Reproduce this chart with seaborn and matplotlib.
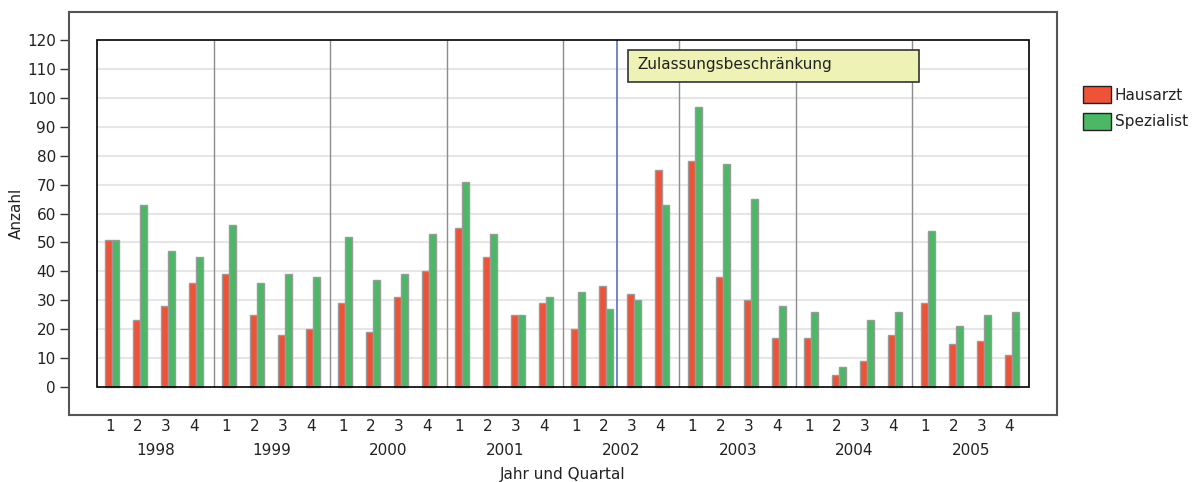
import matplotlib
matplotlib.use("Agg")
import matplotlib.pyplot as plt
from matplotlib.patches import Patch, Rectangle
import numpy as np
import pandas as pd
import seaborn as sns

# Data
years = ["1998", "1999", "2000", "2001", "2002", "2003", "2004", "2005"]
quarters = ["1", "2", "3", "4"]
hausarzt = [51, 23, 28, 36, 39, 25, 18, 20, 29, 19, 31, 40, 55, 45, 25, 29,
            20, 35, 32, 75, 78, 38, 30, 17, 17, 4, 9, 18, 29, 15, 16, 11]
spezialist = [51, 63, 47, 45, 56, 36, 39, 38, 52, 37, 39, 53, 71, 53, 25, 31,
              33, 27, 30, 63, 97, 77, 65, 28, 26, 7, 23, 26, 54, 21, 25, 26]
y_ticks = list(range(0, 121, 10))
series = ["Hausarzt", "Spezialist"]
note = "Zulassungsbeschränkung"

RED = "#ee5237"
GREEN = "#4cb866"
YEAR_STEP = 4.16  # quarter slots per year, incl. small gap between years

sns.set_theme(style="white")
plt.rcParams["font.family"] = ["DejaVu Sans"]
plt.rcParams["text.color"] = "#222222"

# x position of each quarter (year gap included)
pos = [yi * YEAR_STEP + qi for yi in range(len(years)) for qi in range(len(quarters))]
df = pd.DataFrame({
    "pos": pos * 2,
    "Anzahl": hausarzt + spezialist,
    "Gruppe": [series[0]] * len(hausarzt) + [series[1]] * len(spezialist),
})

fig = plt.figure(figsize=(12.03, 4.82), dpi=100)
ax = fig.add_axes([69 / 1203, 1 - 415 / 482, (1057 - 69) / 1203, (415 - 12) / 482])

sns.barplot(data=df, x="pos", y="Anzahl", hue="Gruppe", native_scale=True,
            width=0.5, gap=0, palette=[RED, GREEN], saturation=1,
            edgecolor="#9a9a9a", linewidth=1, errorbar=None, legend=False,
            ax=ax, zorder=3)

inner_left = -0.536
inner_right = inner_left + len(years) * YEAR_STEP
ax.set_xlim(inner_left - 1.0, inner_right + 1.0)
ax.set_ylim(-9.68, 129.68)

# grid, year separators, inner frame
ax.hlines(y_ticks[1:-1], inner_left, inner_right, color="#e6e6e6", lw=1.5, zorder=1)
ax.vlines([inner_left + k * YEAR_STEP for k in range(1, len(years))], 0, 120,
          color="#8c8c8c", lw=1, zorder=2)
ax.add_patch(Rectangle((inner_left, 0), inner_right - inner_left, 120, fill=False,
                       ec="black", lw=1.2, zorder=4))

# Zulassungsbeschränkung marker between 2002 Q2 and Q3
blue_x = 4 * YEAR_STEP + 1.4
ax.vlines(blue_x, 0, 120, color="#5b6fc0", lw=1.2, zorder=2)
ax.add_patch(Rectangle((blue_x + 0.39, 105.5), 10.39, 11.05, fc="#eef2b4",
                       ec="#333333", lw=1.2, zorder=5))
ax.text(blue_x + 0.71, 110.0, note, fontsize=11, va="baseline", ha="left", zorder=6)

for s in ax.spines.values():
    s.set_visible(True)
    s.set_color("#555555")
    s.set_linewidth(1.5)

ax.set_yticks(y_ticks)
ax.set_yticklabels([str(t) for t in y_ticks])
ax.tick_params(axis="y", left=True, length=6.5, width=1, color="#333333", pad=3,
               labelsize=11, labelcolor="#222222")
ax.set_xticks([p - 0.07 for p in pos])
ax.set_xticklabels(quarters * len(years))
ax.tick_params(axis="x", bottom=True, length=0, pad=3, labelsize=11, labelcolor="#222222")
ax.set_xlabel("")
ax.set_ylabel("")

for yi, year in enumerate(years):
    ax.text(inner_left + (yi + 0.5) * YEAR_STEP, -0.087, year, fontsize=11,
            ha="center", va="center", transform=ax.get_xaxis_transform())

ax.text(0.5, -0.147, "Jahr und Quartal", fontsize=11, ha="center", va="center",
        transform=ax.transAxes)
fig.text(16 / 1203, 1 - 213 / 482, "Anzahl", rotation=90, fontsize=11,
         ha="center", va="center")

handles = [Patch(fc=RED, ec="#222222", lw=1, label=series[0]),
           Patch(fc=GREEN, ec="#222222", lw=1, label=series[1])]
fig.legend(handles=handles, loc="upper left", bbox_to_anchor=(1083 / 1203, 1 - 86 / 482),
           frameon=False, borderpad=0, borderaxespad=0, handlelength=1.83,
           handleheight=1.37, handletextpad=0.26, labelspacing=0.6, fontsize=11)

fig.savefig("out.png", dpi=100)
